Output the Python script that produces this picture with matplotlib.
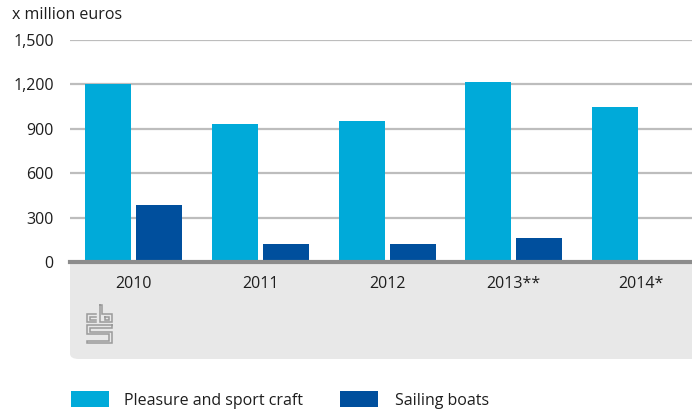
import numpy as np
import matplotlib

matplotlib.use("Agg")
import matplotlib.pyplot as plt
from matplotlib.patches import FancyBboxPatch, Rectangle
from matplotlib.transforms import offset_copy

# Data
years = ["2010", "2011", "2012", "2013**", "2014*"]
pleasure = [1203, 930, 951, 1214, 1045]
sailing = [384, 121, 121, 162, np.nan]
yticks = [0, 300, 600, 900, 1200, 1500]
ytick_labels = ["0", "300", "600", "900", "1,200", "1,500"]

LIGHT = "#00aad9"
DARK = "#004f9d"
PANEL = "#e8e8e8"
TEXT = "#1e1e1e"

W, H = 692, 412
plt.rcParams["font.family"] = ["Open Sans", "DejaVu Sans"]

fig = plt.figure(figsize=(W / 100, H / 100), dpi=100)


def fx(px):
    return px / W


def fy(py):
    return 1 - py / H


# grey panel under the axis (only bottom-left corner rounded)
panel = FancyBboxPatch(
    (fx(70), fy(359)), fx(700 - 70), fy(263) - fy(359),
    boxstyle="round,pad=0,rounding_size=0.013", transform=fig.transFigure,
    facecolor=PANEL, edgecolor="none", zorder=-2,
)
fig.patches.append(panel)
fig.patches.append(Rectangle((fx(70), fy(300)), fx(700 - 70), fy(262) - fy(300),
                             transform=fig.transFigure, facecolor=PANEL,
                             edgecolor="none", zorder=-2))

# main axes: x from 70 px to the right edge, y 0 at 262 px, 1500 at 40 px
period = 126.7
left_px = 133.7 - period / 2
ax = fig.add_axes([fx(left_px), fy(262), 1 - fx(left_px), fy(40) - fy(262)])
ax.set_facecolor("none")
ax.set_xlim(-0.5, -0.5 + (W - left_px) / period)
ax.set_ylim(0, 1500)

x = np.arange(len(years))
bw = 46 / period
off = 25.5 / period
ax.bar(x - off, pleasure, width=bw, color=LIGHT, zorder=3)
ax.bar(x + off, sailing, width=bw, color=DARK, zorder=3)

for v in yticks[1:]:
    ax.axhline(v, color="#bdbdbd", lw=1.6, zorder=1)
ax.axhline(0, color="#8c8c8c", lw=3, zorder=4, clip_on=False)

for s in ax.spines.values():
    s.set_visible(False)
ax.set_xticks([])
ax.set_yticks(yticks)
ax.set_yticklabels(ytick_labels, fontsize=11.5, color=TEXT)
ax.tick_params(axis="y", length=0, pad=12)

# year labels 22 px below the axis line
lab_tr = offset_copy(ax.transData, fig=fig, x=0, y=-22 * 0.72, units="points")
for xi, lab in zip(x, years):
    ax.text(xi, 0, lab, ha="center", va="center", fontsize=11.5, color=TEXT,
            transform=lab_tr, clip_on=False)

fig.text(fx(12), fy(15), "x million euros", ha="left", va="center",
         fontsize=11.5, color=TEXT)

# cbs logo, simplified line drawing
lax = fig.add_axes([fx(86), fy(344), fx(27), fy(304) - fy(344)])
lax.set_xlim(0, 27)
lax.set_ylim(40, 0)
lax.axis("off")
logo_col = "#9a9a9a"
paths = [
    [(10, 10), (1, 10), (1, 18), (10, 18)],
    [(10, 12.5), (3.5, 12.5), (3.5, 15.5), (10, 15.5)],
    [(14, 1), (14, 18), (26, 18), (26, 10), (16.5, 10), (16.5, 1), (14, 1)],
    [(19, 12.5), (23.5, 12.5), (23.5, 15.5), (19, 15.5), (19, 12.5)],
    [(26, 21), (1, 21), (1, 30), (23.5, 30), (23.5, 36.5), (1, 36.5), (1, 39), (26, 39),
     (26, 27.5), (3.5, 27.5), (3.5, 23.5), (26, 23.5), (26, 21)],
]
for p in paths:
    xs, ys = zip(*p)
    lax.plot(xs, ys, color=logo_col, lw=1.1, solid_joinstyle="miter")

# legend
fig.patches.append(Rectangle((fx(71), fy(407)), fx(38), fy(391) - fy(407),
                             transform=fig.transFigure, facecolor=LIGHT, edgecolor="none"))
fig.text(fx(124), fy(401), "Pleasure and sport craft", ha="left", va="center",
         fontsize=11.5, color=TEXT)
fig.patches.append(Rectangle((fx(340), fy(407)), fx(38), fy(391) - fy(407),
                             transform=fig.transFigure, facecolor=DARK, edgecolor="none"))
fig.text(fx(395), fy(401), "Sailing boats", ha="left", va="center",
         fontsize=11.5, color=TEXT)

fig.savefig("out.png", dpi=100)
